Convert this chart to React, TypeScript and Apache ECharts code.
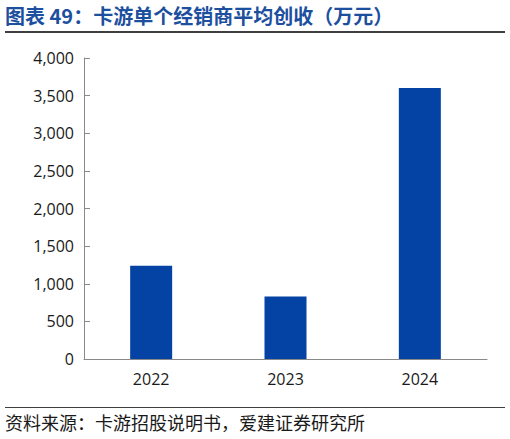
import React, { useEffect, useRef } from "react";
import * as echarts from "echarts";

const categories = ["2022", "2023", "2024"];
const revenue = [1240, 830, 3600];
const yTicks = [0, 500, 1000, 1500, 2000, 2500, 3000, 3500, 4000];
const titleText = "图表 49：卡游单个经销商平均创收（万元）";
const sourceText = "资料来源：卡游招股说明书，爱建证券研究所";

const FONT = "'Open Sans', 'Noto Sans CJK SC', sans-serif";
const CJK = "'Noto Sans CJK SC', sans-serif";

export default function App() {
  const ref = useRef<HTMLDivElement>(null);
  useEffect(() => {
    if (!ref.current) return;
    const chart = echarts.init(ref.current, undefined, { renderer: "svg" });
    chart.setOption({
      animation: false,
      backgroundColor: "#ffffff",
      grid: { left: 84, right: 23, top: 58, bottom: 80, containLabel: false },
      xAxis: {
        type: "category",
        data: categories,
        axisLine: { lineStyle: { color: "#898989", width: 1 } },
        axisTick: { show: false },
        axisLabel: { color: "#1a1a1a", fontSize: 16, fontFamily: FONT, margin: 12 },
      },
      yAxis: {
        type: "value",
        min: yTicks[0],
        max: yTicks[yTicks.length - 1],
        interval: 500,
        axisLine: { show: true, lineStyle: { color: "#898989", width: 1 } },
        axisTick: { show: true, inside: true, length: 6, lineStyle: { color: "#898989" } },
        splitLine: { show: false },
        axisLabel: {
          color: "#1a1a1a",
          fontSize: 16,
          fontFamily: FONT,
          margin: 10,
          formatter: (v: number) => v.toLocaleString("en-US"),
        },
      },
      series: [
        {
          type: "bar",
          data: revenue,
          barWidth: 42,
          itemStyle: { color: "#0442A4" },
        },
      ],
      graphic: [
        {
          type: "text",
          left: 5,
          top: 5,
          style: {
            text: titleText,
            fill: "#1D4F9F",
            font: `bold 20px ${CJK}`,
          },
        },
        {
          type: "line",
          shape: { x1: 5, y1: 32, x2: 505, y2: 32 },
          style: { stroke: "#3f3f3f", lineWidth: 2 },
        },
        {
          type: "line",
          shape: { x1: 5, y1: 407.5, x2: 505, y2: 407.5 },
          style: { stroke: "#3f3f3f", lineWidth: 1 },
        },
        {
          type: "text",
          left: 5,
          top: 413,
          style: {
            text: sourceText,
            fill: "#1a1a1a",
            font: `18px ${CJK}`,
          },
        },
      ],
    });
    return () => chart.dispose();
  }, []);
  return (
    <div
      ref={ref}
      style={{ position: "fixed", left: 0, top: 0, width: 510, height: 439, background: "#fff" }}
    />
  );
}
